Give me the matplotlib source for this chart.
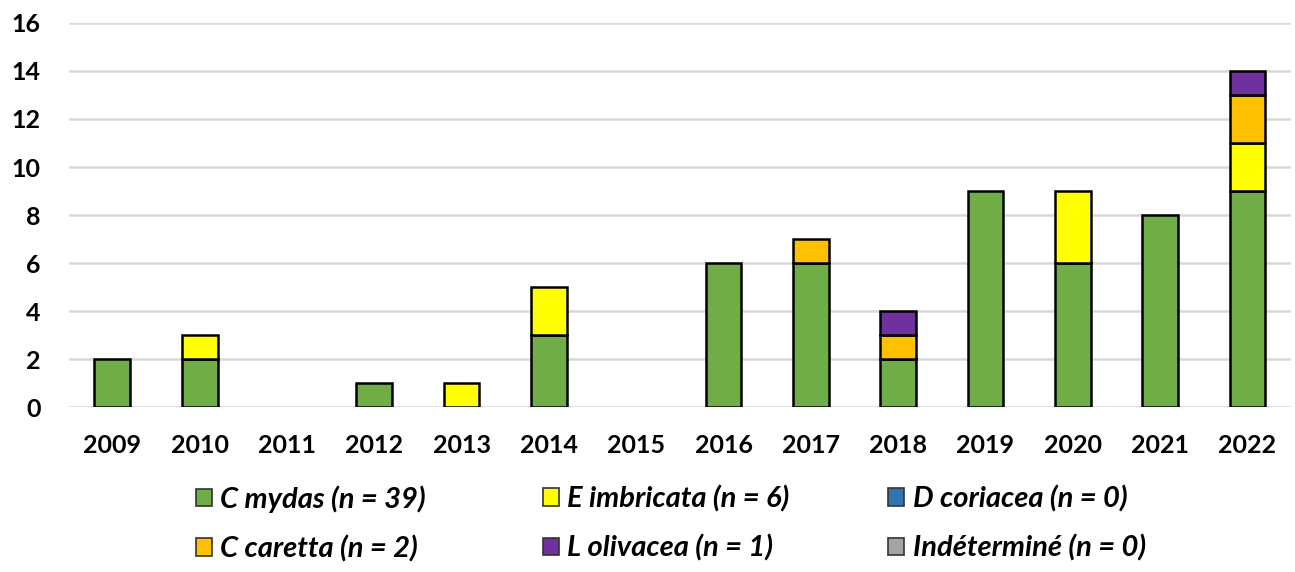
import numpy as np
import matplotlib.pyplot as plt
from matplotlib.patches import Patch

plt.rcParams['font.family'] = ['Lato', 'DejaVu Sans']

years = ['2009', '2010', '2011', '2012', '2013', '2014', '2015',
         '2016', '2017', '2018', '2019', '2020', '2021', '2022']
c_mydas = [2, 2, 0, 1, 0, 3, 0, 6, 6, 2, 9, 6, 8, 9]
e_imbricata = [0, 1, 0, 0, 1, 2, 0, 0, 0, 0, 0, 3, 0, 2]
d_coriacea = [0] * 14
c_caretta = [0, 0, 0, 0, 0, 0, 0, 0, 1, 1, 0, 0, 0, 2]
l_olivacea = [0, 0, 0, 0, 0, 0, 0, 0, 0, 1, 0, 0, 0, 1]
indetermine = [0] * 14

series = [
    ('C mydas (n = 39)', c_mydas, '#70AD47'),
    ('E imbricata (n = 6)', e_imbricata, '#FFFF00'),
    ('D coriacea (n = 0)', d_coriacea, '#2E75B6'),
    ('C caretta (n = 2)', c_caretta, '#FFC000'),
    ('L olivacea (n = 1)', l_olivacea, '#7030A0'),
    ('Indéterminé (n = 0)', indetermine, '#A5A5A5'),
]

fig = plt.figure(figsize=(12.95, 5.72), dpi=100)
ax = fig.add_axes([0.053, 0.288, 0.944, 0.672])

x = np.arange(len(years))
bottom = np.zeros(len(years))
handles = []
for label, vals, color in series:
    vals = np.array(vals, dtype=float)
    lw = [1.8 if v > 0 else 0 for v in vals]
    ax.bar(x, vals, 0.41, bottom=bottom, color=color, edgecolor='black',
           linewidth=lw, zorder=3)
    bottom += vals
    handles.append(Patch(facecolor=color, edgecolor='#333333', linewidth=1.2,
                         label=label))

ax.set_ylim(0, 16)
ax.set_yticks(range(0, 17, 2))
ax.set_xlim(-0.5, len(years) - 0.5)
ax.set_xticks(x)
ax.set_xticklabels(years)
ax.tick_params(length=0, labelsize=18, pad=19)
ax.tick_params(axis='y', pad=20)
for t in ax.get_xticklabels() + ax.get_yticklabels():
    t.set_fontweight('bold')
ax.grid(axis='y', color='#D9D9D9', linewidth=1.8, zorder=0)
for s in ax.spines.values():
    s.set_visible(False)

legend_x = [0.151, 0.419, 0.686]
for i, lx in enumerate(legend_x):
    fig.legend(handles=[handles[i], handles[i + 3]], loc='upper left',
               bbox_to_anchor=(lx, 0.152), frameon=False, ncol=1,
               handlelength=0.55, handleheight=0.55, handletextpad=0.3,
               labelspacing=0.78, borderaxespad=0, borderpad=0,
               prop={'size': 21, 'weight': 'bold', 'style': 'italic'})

fig.savefig('out.png', dpi=100)
